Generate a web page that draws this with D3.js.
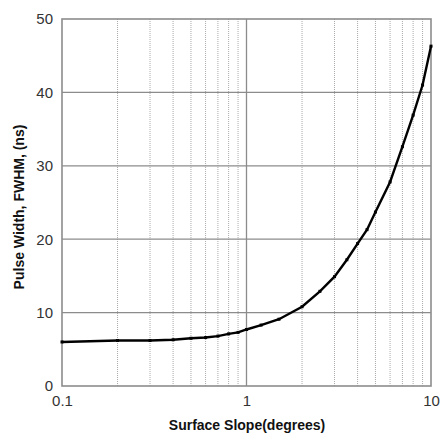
<!DOCTYPE html>
<html>
<head>
<meta charset="utf-8">
<script src="https://cdn.jsdelivr.net/npm/d3@7"></script>
<style>
  body { margin: 0; background: #fff; }
  svg { display: block; }
</style>
</head>
<body>
<div id="chart-area"></div>
<script>
// slope in degrees vs pulse width in ns
let slopes = [0.1, 0.2, 0.3, 0.4, 0.5, 0.6, 0.7, 0.8, 0.9, 1, 1.2, 1.5, 2, 2.5, 3, 3.5, 4, 4.5, 5, 6, 7, 8, 9, 10];
let widths = [6.0, 6.2, 6.2, 6.3, 6.5, 6.6, 6.8, 7.1, 7.3, 7.7, 8.3, 9.1, 10.8, 12.9, 14.9, 17.2, 19.4, 21.3, 23.7, 27.8, 32.6, 36.9, 41.0, 46.3];
let xTicks = [0.1, 1, 10];
let yTicks = [0, 10, 20, 30, 40, 50];
let minorX = [0.2, 0.3, 0.4, 0.5, 0.6, 0.7, 0.8, 0.9, 2, 3, 4, 5, 6, 7, 8, 9];

let margin = { left: 62, right: 11, top: 19, bottom: 49 };
let width = 442 - margin.left - margin.right;
let height = 435 - margin.top - margin.bottom;

let svg = d3.select("#chart-area")
    .append("svg")
    .attr("width", 442)
    .attr("height", 435);

let g = svg.append("g")
    .attr("transform", "translate(" + margin.left + "," + margin.top + ")");

let x = d3.scaleLog().domain([0.1, 10]).range([0, width]);
let y = d3.scaleLinear().domain([0, 50]).range([height, 0]);

// minor dotted grid
g.selectAll(".minor")
    .data(minorX)
    .enter().append("line")
    .attr("x1", d => x(d)).attr("x2", d => x(d))
    .attr("y1", 0).attr("y2", height)
    .attr("stroke", "#aaa")
    .attr("stroke-width", 1)
    .attr("stroke-dasharray", "1,1");

// major grid
g.selectAll(".hgrid")
    .data(yTicks.slice(1, -1))
    .enter().append("line")
    .attr("x1", 0).attr("x2", width)
    .attr("y1", d => y(d)).attr("y2", d => y(d))
    .attr("stroke", "#8c8c8c")
    .attr("stroke-width", 1.3);

g.selectAll(".vgrid")
    .data(xTicks.slice(1, -1))
    .enter().append("line")
    .attr("x1", d => x(d)).attr("x2", d => x(d))
    .attr("y1", 0).attr("y2", height)
    .attr("stroke", "#8c8c8c")
    .attr("stroke-width", 1.3);

// frame
g.append("rect")
    .attr("width", width).attr("height", height)
    .attr("fill", "none")
    .attr("stroke", "#8c8c8c")
    .attr("stroke-width", 1.6);

// axes (labels only)
let xAxis = d3.axisBottom(x).tickValues(xTicks).tickSize(0).tickPadding(9)
    .tickFormat(d3.format("~g"));
g.append("g")
    .attr("transform", "translate(0," + height + ")")
    .call(xAxis)
    .call(a => a.select(".domain").remove())
    .selectAll("text")
    .attr("font-family", "Liberation Sans, Arial, sans-serif")
    .attr("font-size", "15px")
    .attr("fill", "#333");

let yAxis = d3.axisLeft(y).tickValues(yTicks).tickSize(0).tickPadding(9);
g.append("g")
    .call(yAxis)
    .call(a => a.select(".domain").remove())
    .selectAll("text")
    .attr("font-family", "Liberation Sans, Arial, sans-serif")
    .attr("font-size", "15px")
    .attr("fill", "#333");

// curve
let pts = slopes.map((s, i) => ({ s: s, w: widths[i] }));
let line = d3.line().x(d => x(d.s)).y(d => y(d.w));

g.append("path")
    .datum(pts)
    .attr("d", line)
    .attr("fill", "none")
    .attr("stroke", "#000")
    .attr("stroke-width", 2.4);

g.selectAll(".pt")
    .data(pts)
    .enter().append("rect")
    .attr("x", d => x(d.s) - 1.5)
    .attr("y", d => y(d.w) - 1.5)
    .attr("width", 3).attr("height", 3)
    .attr("fill", "#000");

// X LABEL
svg.append("text")
    .attr("x", 247)
    .attr("y", 430)
    .attr("text-anchor", "middle")
    .attr("font-family", "Liberation Sans, Arial, sans-serif")
    .attr("font-weight", "bold")
    .attr("font-size", "14px")
    .attr("fill", "#111")
    .text("Surface Slope(degrees)");

// Y LABEL
svg.append("text")
    .attr("transform", "translate(24,207) rotate(-90)")
    .attr("text-anchor", "middle")
    .attr("font-family", "Liberation Sans, Arial, sans-serif")
    .attr("font-weight", "bold")
    .attr("font-size", "14px")
    .attr("fill", "#111")
    .text("Pulse Width, FWHM, (ns)");
</script>
</body>
</html>
